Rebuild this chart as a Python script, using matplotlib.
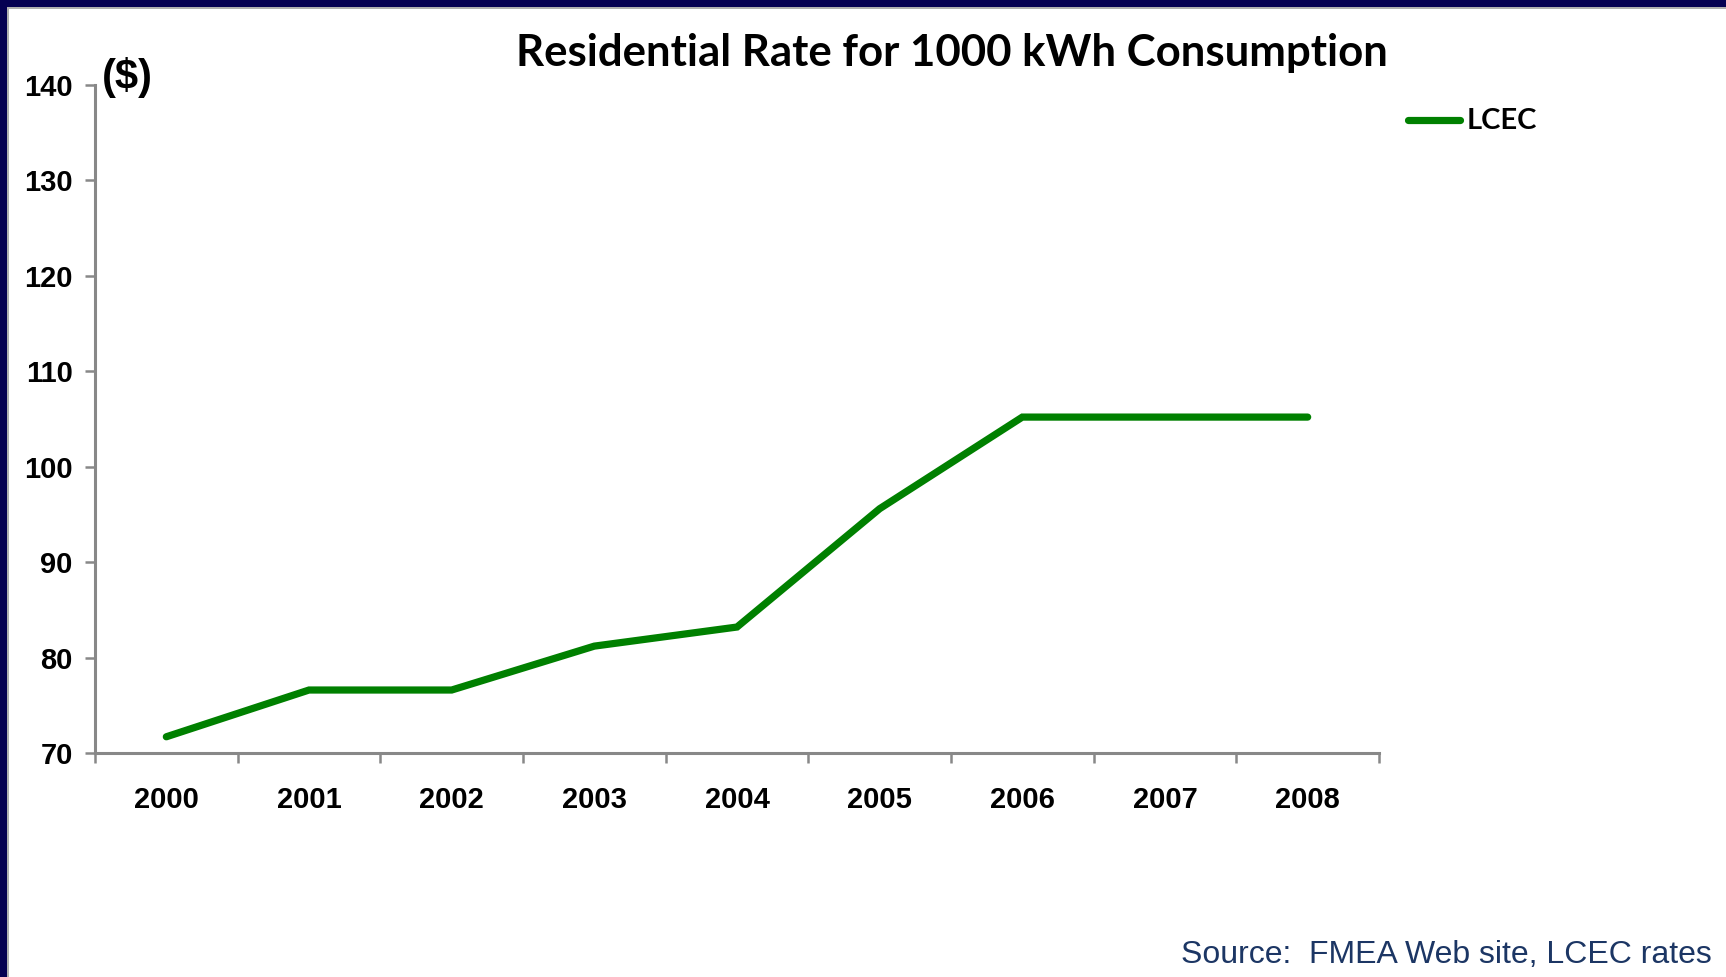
import matplotlib.pyplot as plt
from matplotlib.patches import Rectangle
from matplotlib.lines import Line2D

# residential bill for 1000 kWh, LCEC
years = ['2000', '2001', '2002', '2003', '2004', '2005', '2006', '2007', '2008']
lcec = [71.7, 76.6, 76.6, 81.2, 83.2, 95.6, 105.2, 105.2, 105.2]
y_ticks = [70, 80, 90, 100, 110, 120, 130, 140]

W, H = 1726, 977
fig = plt.figure(figsize=(W / 100, H / 100), dpi=100)
fig.patch.set_facecolor('white')

# slide frame: navy strip on the left and top with a thin grey edge
navy = '#050052'
fig.add_artist(Rectangle((0, 0), 7 / W, 1, transform=fig.transFigure, color=navy, lw=0))
fig.add_artist(Rectangle((0, 1 - 7 / H), 1, 7 / H, transform=fig.transFigure, color=navy, lw=0))
fig.add_artist(Rectangle((7 / W, 0), 2 / W, 1 - 7 / H, transform=fig.transFigure, color='#b0b0b0', lw=0))
fig.add_artist(Rectangle((7 / W, 1 - 9 / H), 1, 2 / H, transform=fig.transFigure, color='#b0b0b0', lw=0))

ax = fig.add_axes([95 / W, 224 / H, (1379 - 95) / W, (892 - 224) / H])
x = list(range(len(years)))
ax.plot(x, lcec, color='#008000', lw=5.2, solid_capstyle='round', solid_joinstyle='miter')

ax.set_xlim(-0.5, len(years) - 0.5)
ax.set_ylim(70, 140)
ax.set_yticks(y_ticks)
ax.set_yticklabels([str(v) for v in y_ticks])
ax.set_xticks(x)
ax.set_xticklabels(years)
ax.set_xticks([i - 0.5 for i in range(len(years) + 1)], minor=True)

axis_grey = '#888888'
for s in ['top', 'right']:
    ax.spines[s].set_visible(False)
for s in ['left', 'bottom']:
    ax.spines[s].set_color(axis_grey)
    ax.spines[s].set_linewidth(2.2)

ax.tick_params(axis='x', which='major', length=0, pad=24)
ax.tick_params(axis='x', which='minor', length=7, width=1.8, color=axis_grey)
ax.tick_params(axis='y', length=7, width=1.8, color=axis_grey, pad=9)
for lab in ax.get_xticklabels() + ax.get_yticklabels():
    lab.set_fontfamily('Liberation Sans')
    lab.set_fontweight('bold')
    lab.set_fontsize(21)

fig.text(102 / W, 1 - 77 / H, '($)', family='Liberation Sans', weight='bold',
         fontsize=30, va='center', ha='left')

fig.text(952 / W, 1 - 53 / H, 'Residential Rate for 1000 kWh Consumption',
         family='Lato', weight='bold', fontsize=31.5, ha='center', va='center')

# legend drawn by hand to the right of the plot
fig.add_artist(Line2D([1408 / W, 1460 / W], [1 - 120 / H, 1 - 120 / H],
                      transform=fig.transFigure, color='#008000', lw=5.2,
                      solid_capstyle='round'))
fig.text(1467 / W, 1 - 121 / H, 'LCEC', family='Lato', weight='bold',
         fontsize=21, ha='left', va='center')

fig.text(1712 / W, 1 - 955 / H, 'Source:  FMEA Web site, LCEC rates',
         family='Liberation Sans', fontsize=23,
         color='#1c3664', ha='right', va='center')

fig.savefig('out.png', dpi=100)
